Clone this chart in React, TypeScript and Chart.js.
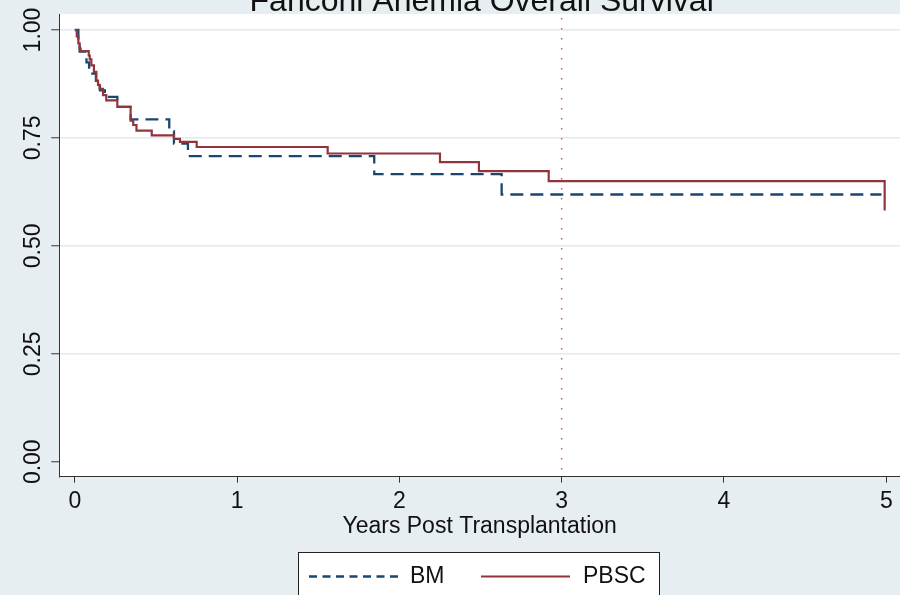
import React, { useEffect, useRef } from "react";
import { Chart, registerables } from "chart.js";

Chart.register(...registerables);

const chartTitle = "Fanconi Anemia Overall Survival";
const xAxisTitle = "Years Post Transplantation";
const seriesNames = ["BM", "PBSC"];
const xTickValues = [0, 1, 2, 3, 4, 5];
const yTickValues = [0, 0.25, 0.5, 0.75, 1];
const yTickLabels = ["0.00", "0.25", "0.50", "0.75", "1.00"];
const referenceYear = 3;

const bmTimes = [0, 0.022, 0.03, 0.072, 0.088, 0.13, 0.155, 0.185, 0.262, 0.344, 0.582, 0.611, 0.697, 1.845, 2.63, 4.97];
const bmSurvival = [1.0, 0.975, 0.95, 0.925, 0.899, 0.875, 0.86, 0.845, 0.822, 0.793, 0.765, 0.737, 0.708, 0.666, 0.619, 0.619];

const pbscTimes = [0, 0.012, 0.022, 0.03, 0.036, 0.086, 0.092, 0.102, 0.118, 0.133, 0.143, 0.153, 0.174, 0.194, 0.262, 0.344, 0.36, 0.38, 0.474, 0.611, 0.648, 0.751, 1.558, 2.25, 2.49, 2.92, 4.99];
const pbscSurvival = [1.0, 0.985, 0.969, 0.957, 0.951, 0.941, 0.932, 0.918, 0.903, 0.883, 0.873, 0.864, 0.849, 0.837, 0.822, 0.79, 0.78, 0.767, 0.756, 0.748, 0.741, 0.729, 0.714, 0.694, 0.673, 0.65, 0.582];

const BM_COLOR = "#1a476f";
const PBSC_COLOR = "#90353b";
const BG = "#e7eef1";
const FONT = "'Liberation Sans', Arial, sans-serif";

export default function App() {
  const canvasRef = useRef<HTMLCanvasElement | null>(null);

  useEffect(() => {
    const canvas = canvasRef.current;
    if (!canvas) return;

    const decorPlugin = {
      id: "decor",
      beforeDraw(chart: any) {
        const { ctx, chartArea } = chart;
        ctx.save();
        ctx.fillStyle = BG;
        ctx.fillRect(0, 0, chart.width, chart.height);
        ctx.fillStyle = "#ffffff";
        ctx.fillRect(chartArea.left, chartArea.top, chartArea.right - chartArea.left, chartArea.bottom - chartArea.top);
        ctx.restore();
      },
      beforeDatasetsDraw(chart: any) {
        const { ctx, chartArea } = chart;
        const x = chart.scales.x.getPixelForValue(referenceYear);
        ctx.save();
        ctx.strokeStyle = "#b3607c";
        ctx.lineWidth = 1.5;
        ctx.setLineDash([1.5, 8.5]);
        ctx.beginPath();
        ctx.moveTo(x, chartArea.top + 4);
        ctx.lineTo(x, chartArea.bottom);
        ctx.stroke();
        ctx.restore();
      },
      afterDraw(chart: any) {
        const { ctx, chartArea } = chart;
        const yScale = chart.scales.y;
        ctx.save();
        // title (clipped at the top of the picture)
        ctx.fillStyle = "#111111";
        ctx.font = `32px ${FONT}`;
        ctx.textAlign = "center";
        ctx.textBaseline = "alphabetic";
        ctx.fillText(chartTitle, (chartArea.left + chartArea.right) / 2 + 2, 10.5);

        // rotated y tick labels
        ctx.font = `23px ${FONT}`;
        ctx.textAlign = "center";
        ctx.textBaseline = "middle";
        yTickValues.forEach((v, i) => {
          const y = yScale.getPixelForValue(v);
          ctx.save();
          ctx.translate(33.5, y);
          ctx.rotate(-Math.PI / 2);
          ctx.fillText(yTickLabels[i], 0, 0);
          ctx.restore();
        });

        // legend box
        ctx.fillStyle = "#ffffff";
        ctx.fillRect(298.5, 552.5, 361, 60);
        ctx.strokeStyle = "#222222";
        ctx.lineWidth = 1;
        ctx.setLineDash([]);
        ctx.strokeRect(298.5, 552.5, 361, 60);

        ctx.lineWidth = 2.3;
        ctx.strokeStyle = BM_COLOR;
        ctx.setLineDash([8, 5.5]);
        ctx.beginPath();
        ctx.moveTo(309, 576.5);
        ctx.lineTo(399, 576.5);
        ctx.stroke();

        ctx.lineWidth = 2.2;
        ctx.strokeStyle = PBSC_COLOR;
        ctx.setLineDash([]);
        ctx.beginPath();
        ctx.moveTo(481, 576.5);
        ctx.lineTo(570, 576.5);
        ctx.stroke();

        ctx.fillStyle = "#111111";
        ctx.font = `23px ${FONT}`;
        ctx.textAlign = "left";
        ctx.textBaseline = "middle";
        ctx.fillText(seriesNames[0], 410, 576.5);
        ctx.fillText(seriesNames[1], 583, 576.5);
        ctx.restore();
      },
    };

    const chart = new Chart(canvas, {
      type: "line",
      data: {
        datasets: [
          {
            label: seriesNames[1],
            data: pbscTimes.map((t, i) => ({ x: t, y: pbscSurvival[i] })),
            borderColor: PBSC_COLOR,
            borderWidth: 2.2,
            stepped: true,
            pointRadius: 0,
            fill: false,
            order: 1,
          },
          {
            label: seriesNames[0],
            data: bmTimes.map((t, i) => ({ x: t, y: bmSurvival[i] })),
            borderColor: BM_COLOR,
            borderWidth: 2.3,
            borderDash: [13, 7],
            stepped: true,
            pointRadius: 0,
            fill: false,
            order: 2,
          },
        ],
      },
      options: {
        responsive: false,
        animation: false,
        devicePixelRatio: 1,
        layout: { padding: { top: 14, left: 0, right: 0, bottom: 0 } },
        plugins: {
          legend: { display: false },
          tooltip: { enabled: false },
          title: { display: false },
        },
        scales: {
          x: {
            type: "linear",
            min: -0.0955,
            max: 5.0845,
            afterBuildTicks: (scale: any) => {
              scale.ticks = xTickValues.map((v) => ({ value: v }));
            },
            afterFit: (scale: any) => {
              scale.height = 118.3;
            },
            grid: {
              drawOnChartArea: false,
              drawTicks: true,
              tickLength: 6,
              tickColor: "#333333",
              tickWidth: 1,
              color: "rgba(0,0,0,0)",
            },
            border: { display: true, color: "#333333", width: 1 },
            ticks: {
              autoSkip: false,
              maxRotation: 0,
              padding: 5.5,
              color: "#111111",
              font: { size: 23, family: FONT },
              callback: (v: any) => String(v),
            },
            title: {
              display: true,
              text: xAxisTitle,
              color: "#111111",
              font: { size: 23, family: FONT },
              padding: { top: 0, bottom: 54.2 },
            },
          },
          y: {
            type: "linear",
            min: -0.0347,
            max: 1.0371,
            afterBuildTicks: (scale: any) => {
              scale.ticks = yTickValues.map((v) => ({ value: v }));
            },
            afterFit: (scale: any) => {
              scale.width = 59.3;
            },
            grid: {
              drawOnChartArea: true,
              drawTicks: true,
              tickLength: 8,
              tickColor: "#333333",
              tickWidth: 1,
              lineWidth: 1.5,
              color: (ctx: any) => (ctx.tick && ctx.tick.value === 0 ? "rgba(0,0,0,0)" : "#e3eaed"),
            },
            border: { display: true, color: "#333333", width: 1 },
            ticks: { display: false },
          },
        },
      },
      plugins: [decorPlugin],
    });

    return () => chart.destroy();
  }, []);

  return (
    <div style={{ position: "fixed", left: 0, top: 0, width: 900, height: 595, overflow: "hidden", background: BG }}>
      <canvas ref={canvasRef} width={900} height={595} style={{ display: "block", width: 900, height: 595 }} />
    </div>
  );
}
